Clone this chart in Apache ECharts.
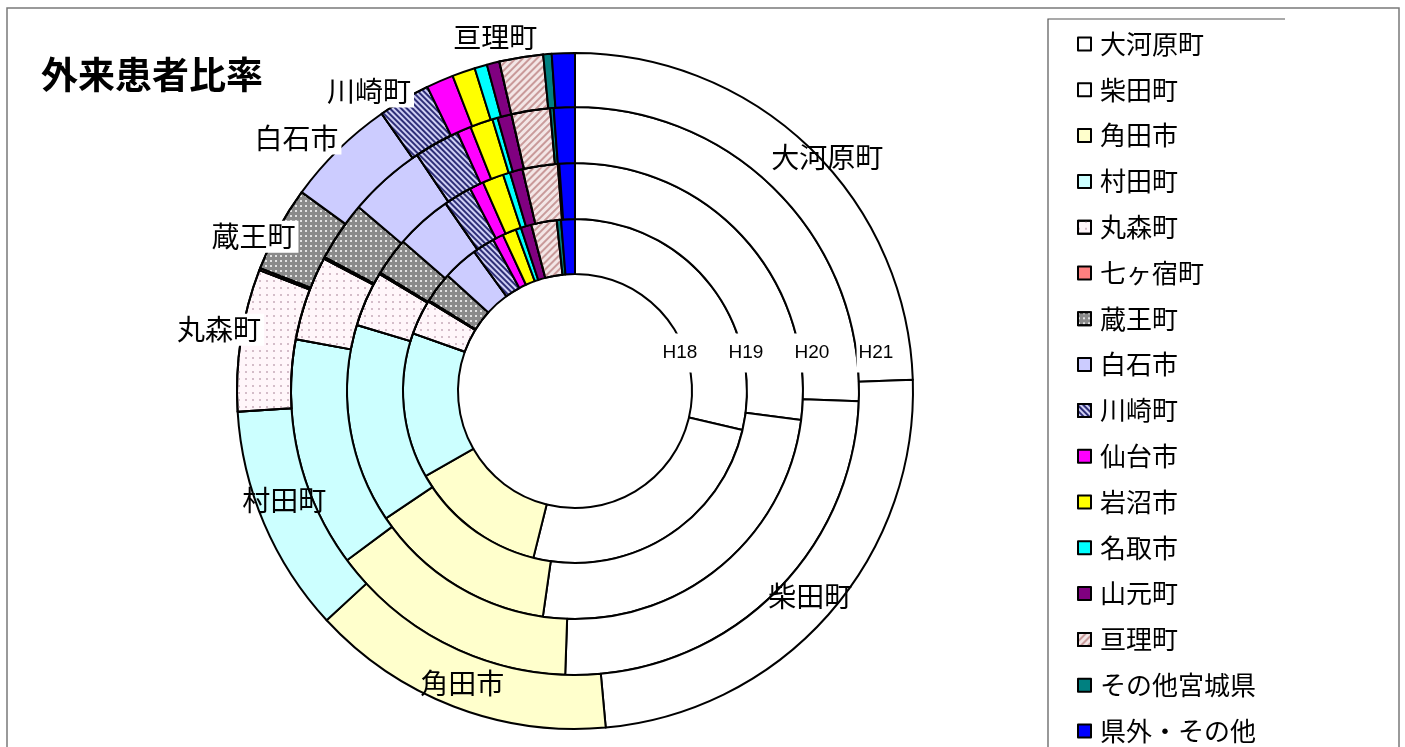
<!DOCTYPE html>
<html><head><meta charset="utf-8">
<script src="https://cdn.jsdelivr.net/npm/echarts@6/dist/echarts.min.js"></script>
<style>html,body{margin:0;padding:0;background:#fff}#c{width:1405px;height:747px}</style>
</head><body><div id="c"></div>
<script>
// ---- data ----
const categories = ['大河原町','柴田町','角田市','村田町','丸森町','七ヶ宿町','蔵王町','白石市','川崎町','仙台市','岩沼市','名取市','山元町','亘理町','その他宮城県','県外・その他'];
const ringLabels = ['H18','H19','H20','H21'];
const h18Shares = [28.7,25.3,12.9,13.7,3.3,0.1,2.9,3.3,2.1,1.0,1.3,0.5,1.0,2.4,0.4,1.3];
const h19Shares = [27.0,25.2,13.3,14.1,3.9,0.1,2.7,4.0,2.0,1.0,1.5,0.5,0.9,2.5,0.1,1.1];
const h20Shares = [25.6,25.0,14.3,13.1,4.8,0.1,3.4,4.4,2.6,0.8,1.3,0.3,0.8,2.2,0.2,1.2];
const h21Shares = [24.5,24.1,14.6,10.9,6.8,0.1,4.1,5.3,2.5,1.3,1.1,0.6,0.6,2.1,0.4,1.1];
const titleText = '外来患者比率';

// ---- styles / layout ----
const FONT = '"Noto Sans CJK JP", "Noto Sans CJK SC", sans-serif';
const stripes = (c, rot, w, g) => ({symbol:'rect', symbolSize:1, dashArrayX:[1,0], dashArrayY:[w,g], rotation:rot, color:c});
const dots = (c, gap) => ({symbol:'circle', symbolSize:1, dashArrayX:[1.6,gap], dashArrayY:[1.6,gap], color:c});
const fills = [
  {color:'#ffffff'}, {color:'#ffffff'}, {color:'#ffffcc'}, {color:'#ccffff'},
  {color:'#fff6fa', decal:dots('#c6aab8',5)}, {color:'#ff8080'},
  {color:'#8a8a8a', decal:dots('#ffffff',3)}, {color:'#ccccff'},
  {color:'#d0d0f4', decal:stripes('#2e2e78', Math.PI/4, 2, 1.6)},
  {color:'#ff00ff'}, {color:'#ffff00'}, {color:'#00ffff'}, {color:'#800080'},
  {color:'#f3e6e6', decal:stripes('#c99a9a', -Math.PI/4, 1.5, 2.2)},
  {color:'#008080'}, {color:'#0000ff'}
];
const CX = 575, CY = 391;
const ringRadii = [[117,172],[172,228],[228,284],[284,338]];
const ringValues = [h18Shares, h19Shares, h20Shares, h21Shares];
// outer ring label placement: position + nudge
const outerLabelCfg = {
  0:{pos:'inside', d:[34,-8]}, 1:{pos:'inside', d:[0,-2]}, 2:{pos:'inside', d:[0,-1]}, 3:{pos:'inside', d:[-2,-14]},
  4:{pos:'outside', d:[28,-10]}, 6:{pos:'outside', d:[25,8]}, 7:{pos:'outside', d:[8,-11]},
  8:{pos:'outside', d:[15,-8]}, 13:{pos:'outside', d:[24,-20]}
};
const ringLabelX = [680, 746, 812, 876], ringLabelY = 353;

const series = ringValues.map((vals, i) => {
  const outer = i === ringValues.length - 1;
  return {
    type:'pie', name:ringLabels[i], center:[CX,CY], radius:ringRadii[i],
    startAngle:90, clockwise:true, avoidLabelOverlap:false, silent:true, animation:false,
    label:{show:false}, labelLine:{show:false, length:0, length2:0},
    itemStyle:{borderColor:'#000', borderWidth:2},
    labelLayout: outer ? (p => { const c = outerLabelCfg[p.dataIndex]; return c ? {dx:c.d[0], dy:c.d[1]} : {}; }) : undefined,
    data: vals.map((v, j) => {
      const d = {name:categories[j], value:v, itemStyle:Object.assign({}, fills[j])};
      if (outer && outerLabelCfg[j]) {
        const c = outerLabelCfg[j];
        d.label = {show:true, position:c.pos, formatter:'{b}', fontFamily:FONT, fontSize:28, color:'#000',
          distanceToLabelLine:5,
          backgroundColor: c.pos === 'outside' ? '#fff' : 'transparent', padding: c.pos === 'outside' ? [2,3] : 0};
        d.labelLine = {show:false, length:0, length2:0};
      }
      return d;
    })
  };
});

const graphics = [
  {type:'polyline', z:100, silent:true, shape:{points:[[7,760],[7,8],[1399,8],[1399,760]]}, style:{fill:null, stroke:'#7a7a7a', lineWidth:1.5}},
  {type:'polyline', z:100, silent:true, shape:{points:[[1048,760],[1048,19],[1285,19]]}, style:{fill:null, stroke:'#555', lineWidth:1.2}}
].concat(ringLabels.map((t, i) => ({
  type:'text', z:100, silent:true, x:ringLabelX[i], y:ringLabelY,
  style:{text:t, fontFamily:'"Liberation Sans", Arial, sans-serif', fontSize:19, fill:'#000',
    align:'center', verticalAlign:'middle', backgroundColor:'#fff', padding:[10,2]}
})));

const chart = echarts.init(document.getElementById('c'), null, {renderer:'canvas'});
chart.setOption({
  backgroundColor:'#fff',
  animation:false,
  title:{text:titleText, left:41, top:56, padding:0, textStyle:{fontFamily:FONT, fontSize:37, fontWeight:'bold', color:'#000'}},
  legend:{
    orient:'vertical', left:1077, top:30, padding:0, selectedMode:false,
    itemWidth:13, itemHeight:13, itemGap:17.8, icon:'rect',
    itemStyle:{borderColor:'#000', borderWidth:2},
    textStyle:{fontFamily:FONT, fontSize:26, lineHeight:28, color:'#000', padding:[0,0,0,4]},
    data:categories
  },
  graphic:graphics,
  series:series
});
</script></body></html>
